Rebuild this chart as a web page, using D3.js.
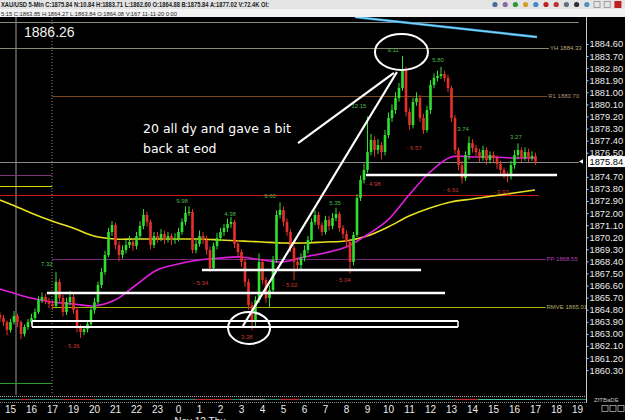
<!DOCTYPE html>
<html><head><meta charset="utf-8">
<script src="https://cdn.jsdelivr.net/npm/d3@7"></script>
<style>body{margin:0;background:#000;overflow:hidden}svg{display:block}</style>
</head><body><svg id="c" width="625" height="420"></svg>
<script>
// ---------- data ----------
const hourLabels = ["15","16","17","19","20","21","22","23","0","1","2","3","4","5","6","7","8","9","10","11","12","13","14","15","16","17","18","19"];
const priceTicks = [1884.6,1883.7,1882.8,1881.9,1881.0,1880.1,1879.2,1878.3,1877.4,1876.5,1874.7,1873.8,1872.9,1872.0,1871.1,1870.2,1869.3,1868.4,1867.5,1866.6,1865.7,1864.8,1863.9,1863.0,1862.1,1861.2,1860.3];
const lastPrice = 1875.84;
const firstSlot = -6;   // bar 0 sits half an hour before the "15" label (5-minute slots)
const slotStep = 2;     // one candle every two 5-minute slots

const opens = [1864.41,1864.18,1863.88,1863.29,1863.88,1864.33,1863.88,1862.99,1863.51,1863.88,
1864.18,1864.63,1865.52,1865.75,1865.45,1865.23,1865.08,1866.87,1865.67,1864.63,
1865.37,1865.75,1864.78,1863.44,1863.14,1863.36,1863.74,1864.78,1865.37,1866.64,
1867.61,1868.88,1870.59,1871.11,1869.62,1868.88,1869.25,1869.62,1869.85,1869.55,
1870.29,1871.04,1871.86,1871.34,1869.62,1870.29,1870.14,1870.44,1870.00,1870.29,
1870.00,1870.14,1870.59,1871.34,1872.01,1872.08,1869.25,1869.70,1870.29,1870.00,
1869.25,1867.91,1869.55,1870.14,1870.59,1870.89,1871.19,1871.34,1869.70,1869.10,
1868.36,1866.87,1865.15,1863.88,1865.52,1868.36,1867.01,1865.67,1866.27,1868.50,
1871.86,1872.23,1871.34,1870.59,1869.40,1868.36,1868.13,1868.65,1869.25,1870.00,
1871.34,1871.86,1871.11,1870.59,1871.49,1871.04,1871.63,1871.93,1870.89,1870.44,
1869.85,1868.36,1870.37,1873.12,1874.47,1875.21,1876.55,1877.45,1876.70,1877.07,
1876.55,1877.82,1879.09,1879.68,1880.58,1881.32,1882.66,1879.53,1878.56,1880.28,
1880.58,1879.09,1878.19,1879.68,1881.55,1882.07,1882.22,1882.36,1882.07,1881.32,
1879.09,1876.70,1875.58,1874.62,1876.33,1877.22,1876.85,1876.55,1876.10,1876.70,
1875.96,1876.33,1876.10,1875.66,1875.21,1874.91,1874.76,1875.58,1876.33,1876.70,
1876.10,1876.55,1876.10,1876.25];
const highs = [1864.6,1864.4,1864.0,1864.1,1864.7,1864.5,1864.0,1863.7,1864.1,1864.5,
1864.9,1865.8,1866.1,1866.0,1865.7,1865.5,1867.6,1867.1,1865.9,1865.7,
1866.2,1866.0,1865.0,1863.7,1863.6,1864.0,1865.0,1865.7,1866.9,1867.9,
1869.2,1870.9,1871.4,1871.3,1869.9,1869.6,1870.0,1870.3,1870.1,1870.6,
1871.4,1872.3,1872.1,1871.5,1870.6,1870.6,1870.8,1870.7,1870.6,1870.5,
1870.5,1870.9,1871.6,1872.5,1872.5,1872.3,1870.1,1870.7,1870.6,1870.3,
1869.5,1869.8,1870.5,1870.9,1871.2,1871.6,1871.7,1871.5,1870.0,1869.3,
1868.6,1867.1,1865.4,1865.8,1869.0,1868.6,1867.2,1866.6,1868.8,1872.2,
1872.8,1872.5,1871.6,1870.8,1869.6,1868.7,1869.0,1869.6,1870.3,1871.6,
1872.2,1872.1,1871.3,1871.8,1871.8,1872.0,1872.4,1872.1,1871.1,1870.7,
1870.1,1870.6,1873.4,1874.8,1875.7,1879.2,1877.9,1877.7,1877.5,1877.3,
1878.2,1879.5,1880.1,1881.0,1881.7,1883.71,1882.9,1879.8,1880.6,1881.0,
1880.8,1879.4,1880.0,1881.9,1882.4,1882.6,1882.9,1882.6,1882.3,1881.5,
1879.3,1876.9,1875.9,1876.6,1877.7,1877.5,1877.1,1876.8,1877.0,1876.9,
1876.6,1876.6,1876.3,1875.9,1875.4,1875.1,1875.9,1876.7,1877.2,1876.9,
1876.9,1876.8,1876.6,1876.5];
const lows = [1863.9,1863.6,1862.9,1863.1,1863.7,1863.5,1862.6,1862.8,1863.3,1863.7,
1864.0,1864.5,1865.3,1865.2,1864.9,1864.8,1864.9,1865.4,1864.3,1864.4,
1865.1,1864.5,1863.1,1862.7,1862.9,1863.1,1863.5,1864.5,1865.2,1866.4,
1867.4,1868.7,1870.3,1869.3,1868.4,1868.6,1869.0,1869.4,1869.2,1869.3,
1870.0,1870.8,1871.0,1869.3,1869.4,1869.8,1869.9,1869.7,1869.8,1869.6,
1869.7,1869.9,1870.4,1871.1,1871.8,1869.0,1869.0,1869.5,1869.7,1868.9,
1867.6,1867.7,1869.3,1869.9,1870.3,1870.6,1870.9,1869.4,1868.7,1868.0,
1866.5,1864.8,1863.3,1863.6,1865.3,1866.7,1865.3,1865.0,1866.0,1868.3,
1871.6,1871.0,1870.3,1869.1,1867.0,1867.7,1867.8,1868.4,1869.0,1869.8,
1871.1,1870.8,1870.3,1870.4,1870.7,1870.8,1871.4,1870.6,1870.1,1869.5,
1867.5,1868.1,1870.2,1872.9,1874.2,1875.0,1876.3,1876.2,1876.4,1876.0,
1876.3,1877.6,1878.8,1879.4,1880.3,1881.1,1879.2,1878.2,1878.3,1880.0,
1878.8,1877.9,1878.0,1879.4,1881.3,1881.8,1882.0,1881.8,1881.0,1878.8,
1876.4,1875.2,1874.2,1874.4,1876.0,1876.5,1876.2,1875.8,1875.9,1875.6,
1875.7,1875.8,1875.3,1874.9,1874.6,1874.3,1874.5,1875.3,1876.0,1875.8,
1875.9,1875.8,1875.9,1875.6];
const closes = [1864.18,1863.88,1863.29,1863.88,1864.33,1863.88,1862.99,1863.51,1863.88,1864.18,
1864.63,1865.52,1865.75,1865.45,1865.23,1865.08,1866.87,1865.67,1864.63,1865.37,
1865.75,1864.78,1863.44,1863.14,1863.36,1863.74,1864.78,1865.37,1866.64,1867.61,
1868.88,1870.59,1871.11,1869.62,1868.88,1869.25,1869.62,1869.85,1869.55,1870.29,
1871.04,1871.86,1871.34,1869.62,1870.29,1870.14,1870.44,1870.00,1870.29,1870.00,
1870.14,1870.59,1871.34,1872.01,1872.08,1869.25,1869.70,1870.29,1870.00,1869.25,
1867.91,1869.55,1870.14,1870.59,1870.89,1871.19,1871.34,1869.70,1869.10,1868.36,
1866.87,1865.15,1863.88,1865.52,1868.36,1867.01,1865.67,1866.27,1868.50,1871.86,
1872.23,1871.34,1870.59,1869.40,1868.36,1868.13,1868.65,1869.25,1870.00,1871.34,
1871.86,1871.11,1870.59,1871.49,1871.04,1871.63,1871.93,1870.89,1870.44,1869.85,
1868.36,1870.37,1873.12,1874.47,1875.21,1876.55,1877.45,1876.70,1877.07,1876.55,
1877.82,1879.09,1879.68,1880.58,1881.32,1882.66,1879.53,1878.56,1880.28,1880.58,
1879.09,1878.19,1879.68,1881.55,1882.07,1882.22,1882.36,1882.07,1881.32,1879.09,
1876.70,1875.58,1874.62,1876.33,1877.22,1876.85,1876.55,1876.10,1876.70,1875.96,
1876.33,1876.10,1875.66,1875.21,1874.91,1874.76,1875.58,1876.33,1876.70,1876.10,
1876.55,1876.10,1876.25,1875.84];

// moving averages sampled on the slot grid
const maSlots = [-6,0,12,24,36,48,60,72,84,96,108,120,132,144,156,168,180,192,204,216,228,240,252,264,276,288,300];
const maYellow = [1872.98,1872.68,1872.01,1871.41,1870.89,1870.29,1870.07,1870.07,1870.07,1870.07,1870.07,1870.0,1869.92,1869.85,1869.77,1869.77,1869.85,1869.92,1870.29,1870.96,1871.78,1872.38,1872.83,1873.05,1873.27,1873.50,1873.72];
const maMagenta = [1866.34,1866.12,1865.67,1865.37,1865.23,1865.08,1865.52,1866.64,1867.76,1868.21,1868.50,1868.65,1868.73,1868.50,1868.36,1868.73,1869.03,1869.47,1870.37,1871.49,1873.35,1875.06,1876.18,1876.18,1876.18,1876.11,1876.11];

// swing labels: text, slot, price
const swingText  = ["7.32","- 5.36","9.98","4.38","- 5.34","- 3.38","9.60","- 5.02","5.35","- 5.04","- 4.98","12.15","9.11","5.80","- 6.57","3.74","- 6.91","3.27","- 3.93"];
const swingSlot  = [21,35.4,98.3,125.7,109,134.3,148.6,160,185.7,190.3,207.4,199.4,218.9,244.6,230.9,258.9,252,289.1,280.6];
const swingPrice = [1868.21,1862.1,1872.9,1871.93,1866.79,1862.77,1873.27,1866.64,1872.75,1867.01,1874.17,1879.98,1884.15,1883.41,1876.85,1878.27,1873.72,1877.67,1873.57];

// horizontal reference levels: price, slot from, slot to, colour
const levelPrice = [1886.26,1884.33,1880.70,1875.84,1873.35,1868.55,1865.01,1874.84,1874.02,1859.34];
const levelFrom  = [-6,-6,24,-6,-6,24,24,-6,-6,-6];
const levelTo    = [325,308,307,325,302,306,306,24,24,24];
const levelColor = ["#8c8c80","#8c8670","#7a4a22","#8a8a8a","#d01818","#7a2a7a","#b0b000","#7a3a7a","#d8d800","#2a9a2a"];
const levelLabel = ["","YH 1884.33","R1 1880.70","","","PP 1868.55","RMVE 1865.01","","",""];
const levelLabelColor = ["","#b8a878","#a89070","","","#b040b0","#b0b060","","",""];

// hand-drawn annotation (slot, price)
const whiteLinePrice = [1874.84,1867.76,1866.05];
const whiteLineFrom  = [203.4,109.7,21.1];
const whiteLineTo    = [312.6,234.9,248.6];
const boxPrice = [1863.95,1863.52]; const boxFrom = 12.6, boxTo = 256;
const diagFromSlot = [133.1,164.6], diagFromPrice = [1863.59,1877.22];
const diagToSlot = [221.1,219.4],   diagToPrice = [1882.51,1882.44];
const ellSlot = [223.7,136.6], ellPrice = [1884.0,1863.44];
const blueFrom = [197.1,1886.61], blueTo = [301.1,1885.12];

// ---------- drawing ----------
const svg = d3.select("#c");
const W = 625, H = 420, plotR = 586, plotT = 17, plotB = 395;
const x = d3.scaleLinear().domain([0,12]).range([10,31]);
const y = d3.scaleLinear().domain([1860.3,1884.6]).range([370.1,44]);

svg.append("rect").attr("width",W).attr("height",H).attr("fill","#000");

// header
svg.append("rect").attr("width",W).attr("height",9).attr("fill","#e4e4e4");
svg.append("rect").attr("y",9).attr("width",W).attr("height",8).attr("fill","#f2f2f2");
svg.append("text").attr("x",1).attr("y",7).attr("font-family","Liberation Sans, Arial").attr("font-size",6.5).attr("font-weight","bold").attr("fill","#222")
  .attr("textLength",268).attr("lengthAdjust","spacingAndGlyphs")
  .text("XAU/USD  5-Min  C:1875.84  N:10.84  H:1883.71  L:1862.60  O:1864.88  B:1875.84  A:1877.02  V:72.4K  OI:");
svg.append("text").attr("x",1).attr("y",15.5).attr("font-family","Liberation Sans, Arial").attr("font-size",6).attr("fill","#222")
  .attr("textLength",176).attr("lengthAdjust","spacingAndGlyphs")
  .text("5:15 C:1863.85 H:1864.27 L:1863.84 O:1864.08 V:167 11-11-20 0:00");
// toolbar icons
const iconCol = ["#4a6a9a","#8a6aa0","#2a9a3a","#d0a020","#3a8ad0","#c02020","#c03030","#607080","#303030","#4a90c0","#909090","#909090","#c02020"];
iconCol.forEach((c,i)=>{
  const ix = 492 + i*10.2;
  if(i===12){svg.append("rect").attr("x",ix).attr("y",1).attr("width",7).attr("height",7).attr("fill",c);}
  else if(i>=10){svg.append("rect").attr("x",ix).attr("y",1.5).attr("width",6).attr("height",6).attr("fill","none").attr("stroke",c).attr("stroke-width",0.8);}
  else {svg.append("circle").attr("cx",ix+3).attr("cy",4.5).attr("r",2.6).attr("fill",c);}
});

const plot = svg.append("g");
plot.append("clipPath").attr("id","clp").append("rect").attr("x",0).attr("y",plotT).attr("width",plotR).attr("height",plotB-plotT);
const g = plot.append("g").attr("clip-path","url(#clp)");

// session lines
g.append("line").attr("x1",x(0)+6).attr("x2",x(0)+6).attr("y1",plotT).attr("y2",plotB).attr("stroke","#9a9a9a").attr("stroke-width",1);
g.append("line").attr("x1",x(24)).attr("x2",x(24)).attr("y1",plotT).attr("y2",plotB).attr("stroke","#8a8a8a").attr("stroke-dasharray","1,2");

// levels
levelPrice.forEach((p,i)=>{
  g.append("line").attr("x1",x(levelFrom[i])).attr("x2",x(levelTo[i])).attr("y1",Math.round(y(p))+0.5).attr("y2",Math.round(y(p))+0.5)
   .attr("stroke",levelColor[i]).attr("stroke-width",1);
  if(levelLabel[i]) svg.append("text").attr("x",x(levelTo[i])+1).attr("y",y(p)+2).attr("font-family","Liberation Sans, Arial").attr("font-size",6)
    .attr("fill",levelLabelColor[i]).text(levelLabel[i]);
});

// blue trend line
g.append("line").attr("x1",x(blueFrom[0])).attr("y1",y(blueFrom[1])).attr("x2",x(blueTo[0])).attr("y2",y(blueTo[1]))
 .attr("stroke","#3aa6e0").attr("stroke-width",2.6);
g.append("line").attr("x1",x(blueFrom[0])).attr("y1",y(blueFrom[1])).attr("x2",x(blueTo[0])).attr("y2",y(blueTo[1]))
 .attr("stroke","#a8e4ff").attr("stroke-width",0.8);

// MAs
const maLine = d3.line().x(d=>x(d[0])).y(d=>y(d[1])).curve(d3.curveCatmullRom);
g.append("path").attr("d",maLine(maSlots.map((s,i)=>[s,maYellow[i]]))).attr("fill","none").attr("stroke","#e8e020").attr("stroke-width",1.6);
g.append("path").attr("d",maLine(maSlots.map((s,i)=>[s,maMagenta[i]]))).attr("fill","none").attr("stroke","#e020e0").attr("stroke-width",1.6);

// candles
const bars = closes.map((c,i)=>({i,o:opens[i],h:highs[i],l:lows[i],c}));
const bx = d => x(firstSlot + slotStep*d.i);
const col = d => d.c >= d.o ? "#30e030" : "#e8302a";
g.selectAll(".wick").data(bars).join("line").attr("class","wick")
  .attr("x1",d=>bx(d)+0.5).attr("x2",d=>bx(d)+0.5).attr("y1",d=>y(d.h)).attr("y2",d=>y(d.l)).attr("stroke",col).attr("stroke-width",1);
g.selectAll(".body").data(bars).join("rect").attr("class","body")
  .attr("x",d=>bx(d)-0.8).attr("width",2.6)
  .attr("y",d=>y(Math.max(d.o,d.c))).attr("height",d=>Math.max(1,Math.abs(y(d.o)-y(d.c)))).attr("fill",col);

// swing labels
swingText.forEach((t,i)=>{
  g.append("text").attr("x",x(swingSlot[i])).attr("y",y(swingPrice[i])+2).attr("text-anchor","middle")
   .attr("font-family","Liberation Sans, Arial").attr("font-size",6)
   .attr("fill", t.startsWith("-") ? "#c83a30" : "#4cb84c").text(t);
});

// annotation
const wl = 2.4;
whiteLinePrice.forEach((p,i)=>{
  g.append("line").attr("x1",x(whiteLineFrom[i])).attr("x2",x(whiteLineTo[i])).attr("y1",y(p)).attr("y2",y(p)).attr("stroke","#fff").attr("stroke-width",wl);
});
boxPrice.forEach(p=>{
  g.append("line").attr("x1",x(boxFrom)).attr("x2",x(boxTo)).attr("y1",y(p)).attr("y2",y(p)).attr("stroke","#fff").attr("stroke-width",2);
});
g.append("line").attr("x1",x(boxFrom)).attr("x2",x(boxFrom)).attr("y1",y(boxPrice[0])).attr("y2",y(boxPrice[1])).attr("stroke","#fff").attr("stroke-width",1.5);
g.append("line").attr("x1",x(boxTo)).attr("x2",x(boxTo)).attr("y1",y(boxPrice[0])).attr("y2",y(boxPrice[1])).attr("stroke","#fff").attr("stroke-width",1.5);
diagFromSlot.forEach((s,i)=>{
  g.append("line").attr("x1",x(s)).attr("y1",y(diagFromPrice[i])).attr("x2",x(diagToSlot[i])).attr("y2",y(diagToPrice[i])).attr("stroke","#fff").attr("stroke-width",2.2);
});
const ellR = [[26.5,18],[21,16]];
ellSlot.forEach((s,i)=>{
  g.append("ellipse").attr("cx",x(s)).attr("cy",y(ellPrice[i])).attr("rx",ellR[i][0]).attr("ry",ellR[i][1]).attr("fill","none").attr("stroke","#fff").attr("stroke-width",2);
});
g.append("text").attr("x",24).attr("y",y(1886.26)+15).attr("font-family","Liberation Sans, Arial").attr("font-size",14).attr("fill","#f0f0f0").text("1886.26");
const note = g.append("text").attr("font-family","DejaVu Sans, Verdana").attr("font-size",12.5).attr("fill","#fff");
note.append("tspan").attr("x",143).attr("y",133).text("20 all dy and gave a bit");
note.append("tspan").attr("x",143).attr("y",153).text("back at eod");

// bottom indicator strip
svg.append("line").attr("x1",0).attr("x2",plotR).attr("y1",396.5).attr("y2",396.5).attr("stroke","#b0b0b0").attr("stroke-dasharray","1,1");
svg.append("line").attr("x1",0).attr("x2",plotR).attr("y1",402.5).attr("y2",402.5).attr("stroke","#909090").attr("stroke-dasharray","1,1");
svg.append("line").attr("x1",0).attr("x2",plotR).attr("y1",399.5).attr("y2",399.5).attr("stroke","#2a8a7a").attr("stroke-width",1);
[[20,30,"#c03030"],[62,95,"#c03030"],[195,232,"#c03030"],[240,265,"#a0a0a0"],[280,300,"#c03030"],[455,478,"#c03030"],[478,535,"#40c0a0"]].forEach(s=>{
  svg.append("line").attr("x1",s[0]).attr("x2",s[1]).attr("y1",399.5).attr("y2",399.5).attr("stroke",s[2]).attr("stroke-width",1.2);
});

// right axis
svg.append("line").attr("x1",plotR+0.5).attr("x2",plotR+0.5).attr("y1",plotT).attr("y2",plotB+8).attr("stroke","#c8c8c8");
const ay = svg.append("g").attr("transform",`translate(${plotR+0.5},0)`)
  .call(d3.axisRight(y).tickValues(priceTicks).tickSize(2).tickPadding(1).tickFormat(d3.format(".2f")));
ay.select(".domain").remove();
ay.selectAll("line").attr("stroke","#c8c8c8");
ay.selectAll("text").attr("fill","#ececec").attr("font-family","Liberation Sans, Arial").attr("font-size",9.3);
// last price tag
svg.append("rect").attr("x",588).attr("y",y(lastPrice)-5.5).attr("width",37).attr("height",11).attr("fill","#fff");
svg.append("text").attr("x",589.5).attr("y",y(lastPrice)+3.3).attr("font-family","Liberation Sans, Arial").attr("font-size",9.3).attr("fill","#000").text(d3.format(".2f")(lastPrice));
svg.append("path").attr("d",`M${plotR-7},${y(lastPrice)} l4,-2.2 v4.4 z`).attr("fill","#fff");

// bottom axis
const ax = svg.append("g").attr("transform",`translate(0,${404})`)
  .call(d3.axisBottom(x).tickValues(hourLabels.map((_,i)=>i*12)).tickSize(0).tickPadding(2).tickFormat((d,i)=>hourLabels[i]));
ax.select(".domain").remove();
ax.selectAll("text").attr("fill","#ececec").attr("font-family","Liberation Sans, Arial").attr("font-size",10);
svg.append("text").attr("x",x(96)+22).attr("y",425).attr("text-anchor","middle").attr("font-family","Liberation Sans, Arial").attr("font-size",10).attr("fill","#ececec").text("Nov 12 Thu");
// corner buttons
[602,610,618].forEach(bx2=>svg.append("rect").attr("x",bx2).attr("y",405.5).attr("width",6).attr("height",6).attr("fill","none").attr("stroke","#b0b0b0").attr("stroke-width",0.8));
svg.append("text").attr("x",594).attr("y",402).attr("font-family","Liberation Sans, Arial").attr("font-size",6).attr("fill","#c0c0c0").text("ZfTBaDE");
</script></body></html>
